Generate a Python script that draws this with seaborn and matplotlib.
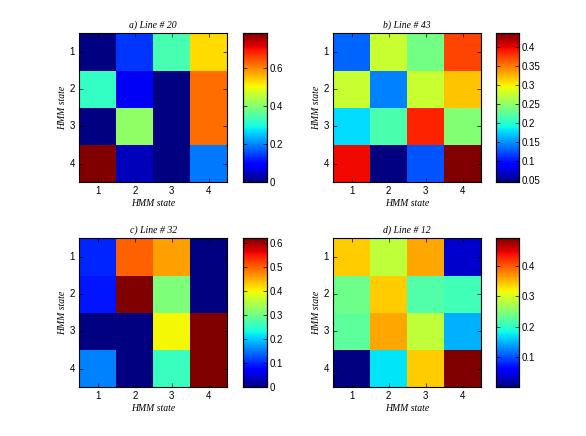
import numpy as np
import matplotlib
matplotlib.use("Agg")
import matplotlib.pyplot as plt
import seaborn as sns

states = ["1", "2", "3", "4"]
titles = ["a) Line # 20", "b) Line # 43", "c) Line # 32", "d) Line # 12"]

line20 = [[0.00, 0.14, 0.34, 0.53],
          [0.32, 0.08, 0.00, 0.62],
          [0.00, 0.41, 0.00, 0.62],
          [0.78, 0.04, 0.00, 0.19]]
line43 = [[0.132, 0.275, 0.236, 0.372],
          [0.275, 0.142, 0.275, 0.318],
          [0.177, 0.216, 0.385, 0.243],
          [0.396, 0.044, 0.126, 0.435]]
line32 = [[0.10, 0.50, 0.46, 0.00],
          [0.09, 0.62, 0.31, 0.00],
          [0.00, 0.00, 0.40, 0.62],
          [0.155, 0.00, 0.26, 0.62]]
line12 = [[0.340, 0.285, 0.358, 0.036],
          [0.236, 0.340, 0.220, 0.210],
          [0.228, 0.358, 0.285, 0.148],
          [0.002, 0.172, 0.340, 0.489]]

cbar_ticks = [[0, 0.2, 0.4, 0.6],
              [0.05, 0.1, 0.15, 0.2, 0.25, 0.3, 0.35, 0.4],
              [0, 0.1, 0.2, 0.3, 0.4, 0.5, 0.6],
              [0.1, 0.2, 0.3, 0.4]]

data = [line20, line43, line32, line12]

W, H = 586, 436
fig = plt.figure(figsize=(W / 100, H / 100), dpi=100)
fig.patch.set_facecolor("white")

# pixel boxes (left, top, width, height)
ax_boxes = [(79.3, 33.3, 148, 149), (333.3, 33.3, 147.7, 149),
            (79.3, 238.3, 148, 149), (333.3, 238.3, 147.7, 149)]
cb_boxes = [(243.3, 33.3, 24, 149), (495.5, 33.3, 23, 149),
            (243.3, 238.3, 24, 149), (495.5, 238.3, 23, 149)]

def fbox(b):
    l, t, w, h = b
    return [l / W, 1 - (t + h) / H, w / W, h / H]

serif = {"family": "Liberation Serif", "style": "italic", "size": 7}
tickfont = 7

for i in range(4):
    ax = fig.add_axes(fbox(ax_boxes[i]))
    cax = fig.add_axes(fbox(cb_boxes[i]))
    arr = np.array(data[i])
    sns.heatmap(arr, ax=ax, cbar_ax=cax, cmap="jet",
                xticklabels=states, yticklabels=states, square=False,
                linewidths=0)
    ax.set_title(titles[i], fontdict=serif, pad=4)
    ax.set_xlabel("HMM state", fontdict=serif, labelpad=2)
    ax.set_ylabel("HMM state", fontdict=serif, labelpad=2)
    ax.tick_params(axis="both", direction="in", length=3, width=0.5,
                   labelsize=tickfont, right=True, top=True, pad=3)
    ax.tick_params(axis="y", labelrotation=0)
    for lab in ax.get_xticklabels() + ax.get_yticklabels():
        lab.set_fontfamily("Liberation Sans")
    for s in ax.spines.values():
        s.set_visible(True)
        s.set_linewidth(0.8)
        s.set_color("black")
    cax.set_yticks(cbar_ticks[i])
    cax.set_yticklabels([("%g" % v) for v in cbar_ticks[i]],
                        fontsize=tickfont, fontfamily="Liberation Sans")
    cax.tick_params(axis="y", direction="in", length=3, width=0.5,
                    left=True, right=True, pad=2)
    for s in cax.spines.values():
        s.set_visible(True)
        s.set_linewidth(0.8)
        s.set_color("black")

fig.savefig("out.png", dpi=100, facecolor="white")
